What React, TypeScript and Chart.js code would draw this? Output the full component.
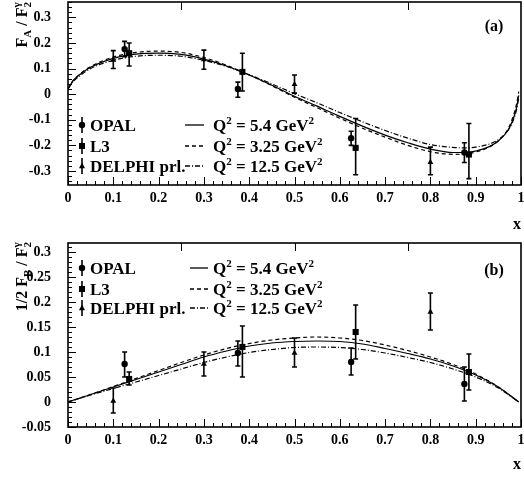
import React, { useEffect, useRef } from "react";
import { Chart, registerables } from "chart.js";
Chart.register(...registerables);

const FONT = '"Liberation Serif", "Times New Roman", serif';

// ---------- axis ticks ----------
const X_TICKS = [0, 0.1, 0.2, 0.3, 0.4, 0.5, 0.6, 0.7, 0.8, 0.9, 1];
const X_TOP_TICKS = [0.25, 0.5, 0.75];
const YA_TICKS = [-0.3, -0.2, -0.1, 0, 0.1, 0.2, 0.3];
const YB_TICKS = [-0.05, 0, 0.05, 0.1, 0.15, 0.2, 0.25, 0.3];

// ---------- panel (a): curves ----------
const CURVE_A_X = [0, 0.01, 0.025, 0.05, 0.1, 0.15, 0.2, 0.25, 0.3, 0.35, 0.4, 0.45, 0.5, 0.55, 0.6, 0.65, 0.7, 0.75, 0.8, 0.85, 0.88, 0.9, 0.93, 0.95, 0.97, 0.98, 0.99, 0.995];
const A_SOLID = [0.02, 0.05, 0.075, 0.105, 0.14, 0.156, 0.16, 0.155, 0.137, 0.11, 0.075, 0.035, -0.008, -0.047, -0.087, -0.125, -0.16, -0.19, -0.215, -0.228, -0.228, -0.222, -0.205, -0.183, -0.145, -0.11, -0.055, -0.005];
const A_DASH = [0.02, 0.05, 0.077, 0.108, 0.145, 0.163, 0.168, 0.163, 0.143, 0.113, 0.075, 0.033, -0.012, -0.053, -0.094, -0.133, -0.168, -0.2, -0.225, -0.235, -0.233, -0.226, -0.207, -0.182, -0.14, -0.1, -0.04, 0.01];
const A_DASHDOT = [0.02, 0.047, 0.07, 0.1, 0.132, 0.148, 0.152, 0.148, 0.132, 0.108, 0.076, 0.04, 0.002, -0.034, -0.072, -0.108, -0.142, -0.172, -0.197, -0.208, -0.21, -0.207, -0.195, -0.178, -0.145, -0.115, -0.062, -0.015];

// ---------- panel (a): data ----------
const OPAL_A_X = [0.125, 0.375, 0.625, 0.875];
const OPAL_A_Y = [0.176, 0.02, -0.172, -0.228];
const OPAL_A_LO = [0.146, -0.012, -0.2, -0.267];
const OPAL_A_HI = [0.206, 0.047, -0.145, -0.19];
const L3_A_X = [0.135, 0.385, 0.635, 0.885];
const L3_A_Y = [0.16, 0.087, -0.21, -0.236];
const L3_A_LO = [0.11, 0.012, -0.315, -0.33];
const L3_A_HI = [0.2, 0.16, -0.095, -0.115];
const DEL_A_X = [0.1, 0.3, 0.5, 0.8];
const DEL_A_Y = [0.133, 0.135, 0.038, -0.266];
const DEL_A_LO = [0.1, 0.097, 0.004, -0.315];
const DEL_A_HI = [0.17, 0.172, 0.075, -0.207];

// ---------- panel (b): curves ----------
const CURVE_B_X = [0, 0.05, 0.1, 0.15, 0.2, 0.25, 0.3, 0.35, 0.4, 0.45, 0.5, 0.55, 0.6, 0.65, 0.7, 0.75, 0.8, 0.85, 0.9, 0.95, 0.995];
const B_SOLID = [0, 0.015, 0.03, 0.045, 0.06, 0.075, 0.09, 0.102, 0.112, 0.118, 0.121, 0.122, 0.121, 0.116, 0.107, 0.097, 0.086, 0.072, 0.054, 0.03, 0];
const B_DASH = [0, 0.015, 0.031, 0.047, 0.063, 0.079, 0.094, 0.107, 0.117, 0.124, 0.128, 0.13, 0.128, 0.123, 0.114, 0.103, 0.09, 0.075, 0.056, 0.03, 0];
const B_DASHDOT = [0, 0.014, 0.027, 0.04, 0.053, 0.066, 0.079, 0.09, 0.099, 0.105, 0.109, 0.11, 0.109, 0.105, 0.098, 0.089, 0.079, 0.066, 0.05, 0.028, 0];

// ---------- panel (b): data ----------
const OPAL_B_X = [0.125, 0.375, 0.625, 0.875];
const OPAL_B_Y = [0.076, 0.098, 0.08, 0.036];
const OPAL_B_LO = [0.05, 0.072, 0.054, 0.002];
const OPAL_B_HI = [0.1, 0.122, 0.108, 0.07];
const L3_B_X = [0.135, 0.385, 0.635, 0.885];
const L3_B_Y = [0.046, 0.11, 0.14, 0.06];
const L3_B_LO = [0.034, 0.05, 0.086, 0.024];
const L3_B_HI = [0.06, 0.152, 0.194, 0.096];
const DEL_B_X = [0.1, 0.3, 0.5, 0.8];
const DEL_B_Y = [0.002, 0.076, 0.098, 0.18];
const DEL_B_LO = [-0.022, 0.052, 0.07, 0.144];
const DEL_B_HI = [0.028, 0.1, 0.128, 0.218];

const DATA_LABELS = ["OPAL", "L3", "DELPHI prl."];
const Q2_LABELS = ["5.4", "3.25", "12.5"];

const DASH_SOLID: number[] = [];
const DASH_DASHED = [4, 3];
const DASH_DASHDOT = [5, 2, 1, 2];

type Part = { t?: string; sub?: string; sup?: string };

function drawRich(ctx: CanvasRenderingContext2D, parts: Part[], x: number, y: number, size: number, draw = true) {
  let cx = x;
  const small = Math.round(size * 0.66);
  for (const p of parts) {
    if (p.t) {
      ctx.font = `bold ${size}px ${FONT}`;
      if (draw) ctx.fillText(p.t, cx, y);
      cx += ctx.measureText(p.t).width;
    } else {
      ctx.font = `bold ${small}px ${FONT}`;
      let w = 0;
      if (p.sub) {
        if (draw) ctx.fillText(p.sub, cx, y + size * 0.28);
        w = Math.max(w, ctx.measureText(p.sub).width);
      }
      if (p.sup) {
        if (draw) ctx.fillText(p.sup, cx, y - size * 0.42);
        w = Math.max(w, ctx.measureText(p.sup).width);
      }
      cx += w;
    }
  }
  return cx - x;
}

function drawMarker(ctx: CanvasRenderingContext2D, style: string, x: number, y: number) {
  ctx.beginPath();
  if (style === "circle") {
    ctx.arc(x, y, 3.2, 0, Math.PI * 2);
  } else if (style === "rect") {
    ctx.rect(x - 3, y - 3, 6, 6);
  } else {
    ctx.moveTo(x, y - 3.5);
    ctx.lineTo(x + 3, y + 2.2);
    ctx.lineTo(x - 3, y + 2.2);
    ctx.closePath();
  }
  ctx.fill();
}

function fmt(v: number) {
  return String(Math.round(v * 1000) / 1000);
}

const errorBarPlugin = {
  id: "errorBars",
  beforeDatasetsDraw(chart: any) {
    const { ctx, scales } = chart;
    const x = scales.x, y = scales.y;
    ctx.save();
    ctx.strokeStyle = "#000";
    ctx.lineWidth = 1.6;
    chart.data.datasets.forEach((ds: any) => {
      if (!ds.errLo) return;
      ds.data.forEach((p: any, i: number) => {
        const px = x.getPixelForValue(p.x);
        const lo = y.getPixelForValue(ds.errLo[i]);
        const hi = y.getPixelForValue(ds.errHi[i]);
        const cw = ds.capW;
        ctx.beginPath();
        ctx.moveTo(px, lo);
        ctx.lineTo(px, hi);
        ctx.moveTo(px - cw, lo);
        ctx.lineTo(px + cw, lo);
        ctx.moveTo(px - cw, hi);
        ctx.lineTo(px + cw, hi);
        ctx.stroke();
      });
    });
    ctx.restore();
  },
};

const framePlugin = {
  id: "frameTicks",
  afterDraw(chart: any, _args: any, opts: any) {
    const { ctx, chartArea: a, scales } = chart;
    const x = scales.x, y = scales.y;
    ctx.save();
    ctx.strokeStyle = "#000";
    ctx.fillStyle = "#000";
    // ticks
    ctx.lineWidth = 1;
    ctx.beginPath();
    for (let i = 0; i < X_TICKS.length; i++) {
      const v = X_TICKS[i];
      const px = Math.round(x.getPixelForValue(v)) + 0.5;
      ctx.moveTo(px, a.bottom);
      ctx.lineTo(px, a.bottom - 8);
      if (i < X_TICKS.length - 1) {
        const step = (X_TICKS[i + 1] - v) / 5;
        for (let k = 1; k < 5; k++) {
          const mx = Math.round(x.getPixelForValue(v + step * k)) + 0.5;
          ctx.moveTo(mx, a.bottom);
          ctx.lineTo(mx, a.bottom - 4);
        }
      }
    }
    for (const v of X_TOP_TICKS) {
      const px = Math.round(x.getPixelForValue(v)) + 0.5;
      ctx.moveTo(px, a.top);
      ctx.lineTo(px, a.top + 8);
    }
    const yt: number[] = opts.yTicks;
    const ymin = y.min, ymax = y.max;
    const ystep = yt[1] - yt[0];
    for (let v = yt[0] - ystep; v <= ymax + 1e-9; v += ystep) {
      if (v >= ymin - 1e-9) {
        const py = Math.round(y.getPixelForValue(v)) + 0.5;
        ctx.moveTo(a.left, py);
        ctx.lineTo(a.left + 8, py);
      }
      for (let k = 1; k < 5; k++) {
        const mv = v + (ystep / 5) * k;
        if (mv < ymin - 1e-9 || mv > ymax + 1e-9) continue;
        const my = Math.round(y.getPixelForValue(mv)) + 0.5;
        ctx.moveTo(a.left, my);
        ctx.lineTo(a.left + 4, my);
      }
    }
    ctx.stroke();
    // frame
    ctx.lineWidth = 1.6;
    ctx.strokeRect(a.left, a.top, a.right - a.left, a.bottom - a.top);

    // tick labels
    ctx.font = `bold 14px ${FONT}`;
    ctx.textAlign = "center";
    ctx.textBaseline = "top";
    for (const v of X_TICKS) {
      ctx.fillText(fmt(v), x.getPixelForValue(v), a.bottom + 6);
    }
    ctx.textAlign = "right";
    ctx.textBaseline = "middle";
    for (const v of yt) {
      ctx.fillText(fmt(v), opts.yLabelRight, y.getPixelForValue(v));
    }

    // x title
    ctx.textBaseline = "alphabetic";
    ctx.textAlign = "right";
    ctx.font = `bold 16px ${FONT}`;
    ctx.fillText("x", a.right, opts.xTitleY);
    // panel label
    ctx.textAlign = "center";
    ctx.fillText(opts.panelLabel, 494, opts.panelLabelY);

    // y title (rotated)
    ctx.textAlign = "left";
    const w = drawRich(ctx, opts.yTitle, 0, 0, 16, false);
    ctx.save();
    ctx.translate(27, opts.yTitleEnd + w);
    ctx.rotate(-Math.PI / 2);
    drawRich(ctx, opts.yTitle, 0, 0, 16, true);
    ctx.restore();

    // legend: data
    const styles = ["circle", "rect", "triangle"];
    const rows: number[] = opts.legendRows;
    ctx.lineWidth = 1.6;
    for (let i = 0; i < 3; i++) {
      const cy = rows[i];
      ctx.beginPath();
      ctx.moveTo(82, cy - 8);
      ctx.lineTo(82, cy + 8);
      ctx.stroke();
      drawMarker(ctx, styles[i], 82, cy);
      ctx.font = `bold 17px ${FONT}`;
      ctx.fillText(DATA_LABELS[i], 90, cy + 6);
    }
    // legend: curves
    const dashes = [DASH_SOLID, DASH_DASHED, DASH_DASHDOT];
    for (let i = 0; i < 3; i++) {
      const cy = rows[i];
      ctx.save();
      ctx.lineWidth = 1.3;
      ctx.setLineDash(dashes[i]);
      ctx.beginPath();
      ctx.moveTo(opts.lineX0, cy);
      ctx.lineTo(opts.lineX1, cy);
      ctx.stroke();
      ctx.restore();
      drawRich(ctx, [{ t: "Q" }, { sup: "2" }, { t: " = " + Q2_LABELS[i] + " GeV" }, { sup: "2" }], 213, cy + 6, 17);
    }
    ctx.restore();
  },
};

function xy(xs: number[], ys: number[]) {
  return xs.map((x, i) => ({ x, y: ys[i] }));
}

function curve(xs: number[], ys: number[], dash: number[]) {
  return {
    data: xy(xs, ys),
    showLine: true,
    pointRadius: 0,
    borderColor: "#000",
    borderWidth: 1.2,
    borderDash: dash,
    cubicInterpolationMode: "monotone",
    fill: false,
  };
}

function points(xs: number[], ys: number[], lo: number[], hi: number[], style: string, radius: number, cap: number) {
  return {
    data: xy(xs, ys),
    showLine: false,
    pointStyle: style,
    pointRadius: radius,
    pointBackgroundColor: "#000",
    pointBorderColor: "#000",
    pointBorderWidth: 0,
    errLo: lo,
    errHi: hi,
    capW: cap,
  };
}

function makeConfig(p: any) {
  return {
    type: "scatter",
    data: {
      datasets: [
        points(p.opal[0], p.opal[1], p.opal[2], p.opal[3], "circle", 3.2, 2.5),
        points(p.l3[0], p.l3[1], p.l3[2], p.l3[3], "rect", 4.3, 2.5),
        points(p.del[0], p.del[1], p.del[2], p.del[3], "triangle", 3.4, 2.5),
        curve(p.cx, p.solid, DASH_SOLID),
        curve(p.cx, p.dash, DASH_DASHED),
        curve(p.cx, p.dashdot, DASH_DASHDOT),
      ],
    },
    options: {
      responsive: false,
      animation: false,
      events: [],
      layout: { autoPadding: false, padding: { left: 0, right: 3, top: p.top, bottom: 0 } },
      plugins: {
        legend: { display: false },
        tooltip: { enabled: false },
        frameTicks: p.frame,
      },
      scales: {
        x: {
          type: "linear",
          min: 0,
          max: 1,
          grid: { display: false, drawTicks: false },
          border: { display: false },
          afterBuildTicks: (s: any) => {
            s.ticks = X_TICKS.map((v) => ({ value: v }));
          },
          afterFit: (s: any) => {
            s.height = p.xAxisH;
            s.paddingLeft = 0;
            s.paddingRight = 0;
          },
          ticks: { display: false, padding: 0 },
        },
        y: {
          type: "linear",
          min: p.ymin,
          max: p.ymax,
          grid: { display: false, drawTicks: false },
          border: { display: false },
          afterBuildTicks: (s: any) => {
            s.ticks = p.yTicks.map((v: number) => ({ value: v }));
          },
          afterFit: (s: any) => {
            s.width = 68;
            s.paddingTop = 0;
            s.paddingBottom = 0;
          },
          ticks: { display: false, padding: 0 },
        },
      },
    },
    plugins: [errorBarPlugin, framePlugin],
  };
}

function Panel(props: { height: number; cfg: any }) {
  const ref = useRef<HTMLCanvasElement>(null);
  useEffect(() => {
    if (!ref.current) return;
    const chart = new Chart(ref.current, props.cfg);
    return () => chart.destroy();
  }, []);
  return <canvas ref={ref} width={524} height={props.height} style={{ display: "block", width: 524, height: props.height }} />;
}

const cfgA = makeConfig({
  top: 2,
  xAxisH: 55,
  ymin: -0.355,
  ymax: 0.36,
  yTicks: YA_TICKS,
  cx: CURVE_A_X,
  solid: A_SOLID,
  dash: A_DASH,
  dashdot: A_DASHDOT,
  opal: [OPAL_A_X, OPAL_A_Y, OPAL_A_LO, OPAL_A_HI],
  l3: [L3_A_X, L3_A_Y, L3_A_LO, L3_A_HI],
  del: [DEL_A_X, DEL_A_Y, DEL_A_LO, DEL_A_HI],
  frame: {
    yTicks: YA_TICKS,
    yLabelRight: 51,
    xTitleY: 229,
    panelLabel: "(a)",
    panelLabelY: 31,
    yTitle: [{ t: "F" }, { sub: "A" }, { t: " / F" }, { sub: "2", sup: "γ" }],
    yTitleEnd: 2,
    legendRows: [125, 146, 166],
    lineX0: 185,
    lineX1: 204,
  },
});

const cfgB = makeConfig({
  top: 3,
  xAxisH: 51,
  ymin: -0.05,
  ymax: 0.318,
  yTicks: YB_TICKS,
  cx: CURVE_B_X,
  solid: B_SOLID,
  dash: B_DASH,
  dashdot: B_DASHDOT,
  opal: [OPAL_B_X, OPAL_B_Y, OPAL_B_LO, OPAL_B_HI],
  l3: [L3_B_X, L3_B_Y, L3_B_LO, L3_B_HI],
  del: [DEL_B_X, DEL_B_Y, DEL_B_LO, DEL_B_HI],
  frame: {
    yTicks: YB_TICKS,
    yLabelRight: 51,
    xTitleY: 229,
    panelLabel: "(b)",
    panelLabelY: 35,
    yTitle: [{ t: "1/2 F" }, { sub: "B" }, { t: " / F" }, { sub: "2", sup: "γ" }],
    yTitleEnd: 2,
    legendRows: [28, 49, 68],
    lineX0: 190,
    lineX1: 208,
  },
});

export default function App() {
  return (
    <div style={{ position: "absolute", left: 0, top: 0, width: 524, height: 478, background: "#fff" }}>
      <Panel height={240} cfg={cfgA} />
      <Panel height={238} cfg={cfgB} />
    </div>
  );
}
